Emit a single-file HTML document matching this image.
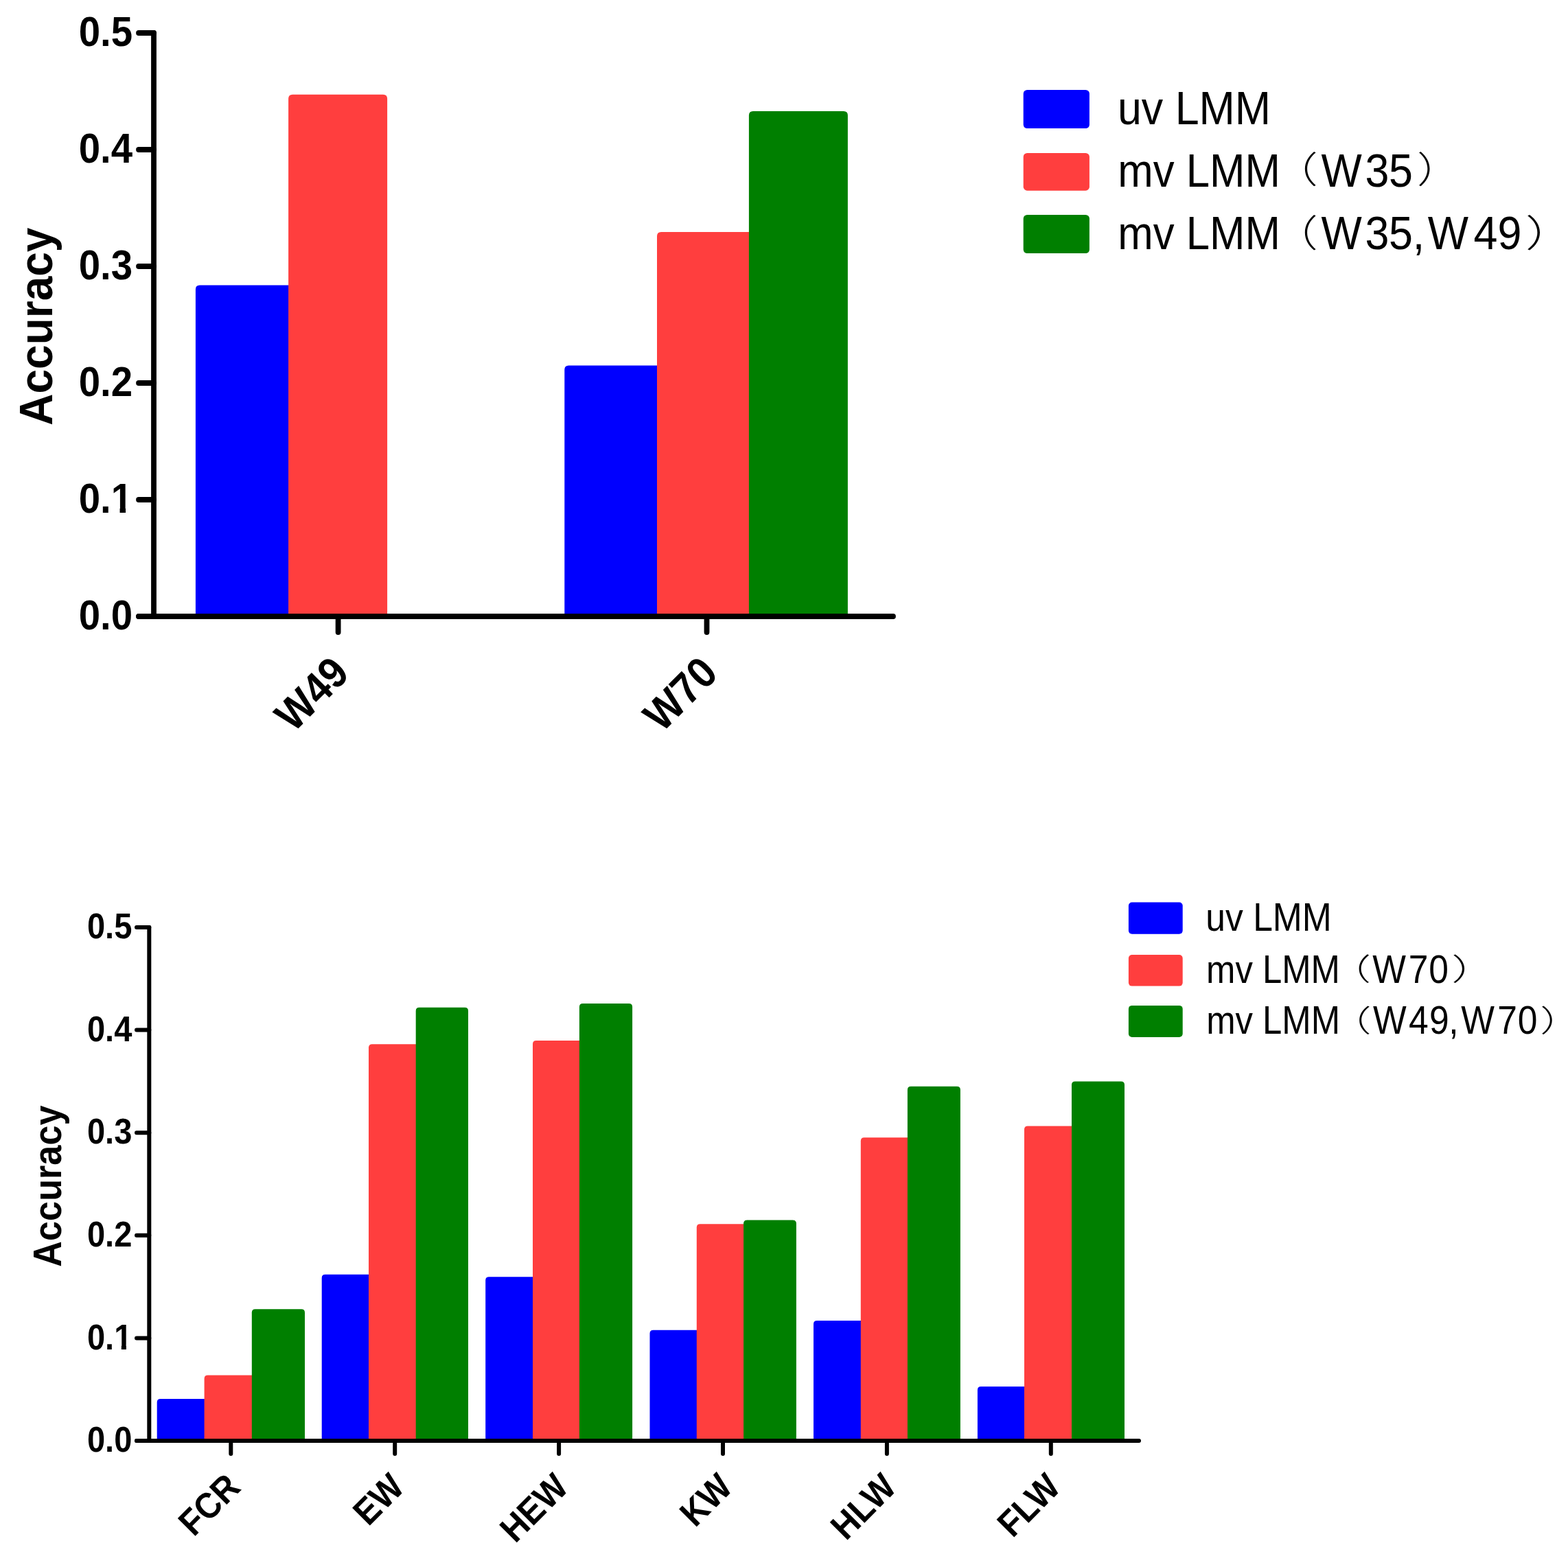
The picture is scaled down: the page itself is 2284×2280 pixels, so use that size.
<!DOCTYPE html>
<html><head><meta charset="utf-8"><title>Accuracy charts</title>
<style>
html,body{margin:0;padding:0;background:#fff;}
body{width:2284px;height:2280px;overflow:hidden;}
svg{display:block;}
.b{font-family:"Liberation Sans",Arial,sans-serif;font-weight:bold;fill:#000;}
.r{font-family:"Liberation Sans",Arial,sans-serif;font-weight:normal;fill:#000;}
.p{font-family:"Noto Sans CJK SC","Liberation Sans",sans-serif;font-weight:300;fill:#000;}
</style></head><body>
<svg width="2284" height="2280" viewBox="0 0 2284 2280">
<rect width="2284" height="2280" fill="#fff"/>
<defs><clipPath id="c1" clipPathUnits="userSpaceOnUse"><rect x="-123.4" y="-123.4" width="185.1" height="115.38"/><rect x="-123.4" y="-123.4" width="92.55" height="154.25"/><rect x="-20.3" y="-12.34" width="9.26" height="24.68"/></clipPath><clipPath id="c2" clipPathUnits="userSpaceOnUse"><rect x="-102.8" y="-102.8" width="154.2" height="96.12"/><rect x="-102.8" y="-102.8" width="77.1" height="128.5"/><rect x="-16.91" y="-10.28" width="7.71" height="20.56"/></clipPath></defs>
<path d="M284.9,898 V421.6 Q284.9,415.6 290.9,415.6 H422.9 Q428.9,415.6 428.9,421.6 V898 Z" fill="#0000FF"/>
<path d="M420.1,898 V143.75 Q420.1,137.75 426.1,137.75 H558.1 Q564.1,137.75 564.1,143.75 V898 Z" fill="#FF3E3E"/>
<path d="M822.3,898 V538.4 Q822.3,532.4 828.3,532.4 H960.3 Q966.3,532.4 966.3,538.4 V898 Z" fill="#0000FF"/>
<path d="M957,898 V344.1 Q957,338.1 963,338.1 H1095 Q1101,338.1 1101,344.1 V898 Z" fill="#FF3E3E"/>
<path d="M1090.9,898 V167.9 Q1090.9,161.9 1096.9,161.9 H1228.9 Q1234.9,161.9 1234.9,167.9 V898 Z" fill="#007F00"/>
<g stroke="#000" stroke-width="7.8" stroke-linecap="round" fill="none">
<path d="M224,48 V898"/>
<path d="M202,898 H1301"/>
<path d="M202,898 H224"/>
<path d="M202,728 H224"/>
<path d="M202,558 H224"/>
<path d="M202,388 H224"/>
<path d="M202,218 H224"/>
<path d="M202,48 H224"/>
<path d="M492.6,898 V921"/>
<path d="M1029.5,898 V921"/>
</g>
<text class="b" transform="translate(193.1 917.2) scale(0.914 1)" font-size="61.7" text-anchor="end">0.0</text>
<text class="b" transform="translate(193.1 747.2) scale(0.914 1)" font-size="61.7" text-anchor="end" clip-path="url(#c1)">0.1</text>
<text class="b" transform="translate(193.1 577.2) scale(0.914 1)" font-size="61.7" text-anchor="end">0.2</text>
<text class="b" transform="translate(193.1 407.2) scale(0.914 1)" font-size="61.7" text-anchor="end">0.3</text>
<text class="b" transform="translate(193.1 237.2) scale(0.914 1)" font-size="61.7" text-anchor="end">0.4</text>
<text class="b" transform="translate(193.1 67.2) scale(0.914 1)" font-size="61.7" text-anchor="end">0.5</text>
<text class="b" transform="translate(76.1 619.8) rotate(-90) scale(0.932 1)" font-size="68.7">Accuracy</text>
<text class="b" transform="translate(511.6 984) rotate(-45) scale(0.914 1)" font-size="63.5" text-anchor="end">W49</text>
<text class="b" transform="translate(1048.5 984) rotate(-45) scale(0.914 1)" font-size="63.5" text-anchor="end">W70</text>
<rect x="1490.7" y="131" width="96.2" height="56" rx="5.5" fill="#0000FF"/>
<rect x="1490.7" y="223" width="96.2" height="54.7" rx="5.5" fill="#FF3E3E"/>
<rect x="1490.7" y="312.9" width="96.2" height="56.1" rx="5.5" fill="#007F00"/>
<text class="r" transform="translate(1627.92 181.2) scale(0.915 1)" font-size="68.6">uv LMM</text>
<text class="r" transform="translate(1628.33 271.6) scale(0.9 1)" font-size="68.6">mv LMM</text>
<text class="p" transform="translate(1853.8 267.49) scale(1.244 1)" font-size="53.05">（</text>
<text class="r" transform="translate(0 271.6) scale(0.915 1)" font-size="68.6" x="2103.33 2173.24 2210.81">W35</text>
<text class="p" transform="translate(2063.96 267.49) scale(1.221 1)" font-size="53.05">）</text>
<text class="r" transform="translate(1628.33 363.4) scale(0.9 1)" font-size="68.6">mv LMM</text>
<text class="p" transform="translate(1853.8 359.35) scale(1.210 1)" font-size="54.53">（</text>
<text class="r" transform="translate(0 363.4) scale(0.915 1)" font-size="68.6" x="2103.33 2173.24 2210.81 2248.8 2272.95 2345.96 2384.1">W35,W49</text>
<text class="p" transform="translate(2221.68 359.35) scale(1.364 1)" font-size="54.53">）</text>
<path d="M228.7,2099 V2043.1 Q228.7,2038.1 233.7,2038.1 H300.7 Q305.7,2038.1 305.7,2043.1 V2099 Z" fill="#0000FF"/>
<path d="M297.6,2099 V2008.4 Q297.6,2003.4 302.6,2003.4 H369.6 Q374.6,2003.4 374.6,2008.4 V2099 Z" fill="#FF3E3E"/>
<path d="M366.8,2099 V1912.2 Q366.8,1907.2 371.8,1907.2 H439 Q444,1907.2 444,1912.2 V2099 Z" fill="#007F00"/>
<path d="M468.7,2099 V1861.8 Q468.7,1856.8 473.7,1856.8 H540.7 Q545.7,1856.8 545.7,1861.8 V2099 Z" fill="#0000FF"/>
<path d="M537,2099 V1526.3 Q537,1521.3 542,1521.3 H609 Q614,1521.3 614,1526.3 V2099 Z" fill="#FF3E3E"/>
<path d="M605.7,2099 V1472.8 Q605.7,1467.8 610.7,1467.8 H677 Q682,1467.8 682,1472.8 V2099 Z" fill="#007F00"/>
<path d="M707.2,2099 V1865.3 Q707.2,1860.3 712.2,1860.3 H779.2 Q784.2,1860.3 784.2,1865.3 V2099 Z" fill="#0000FF"/>
<path d="M776,2099 V1521.1 Q776,1516.1 781,1516.1 H848 Q853,1516.1 853,1521.1 V2099 Z" fill="#FF3E3E"/>
<path d="M843.9,2099 V1466.9 Q843.9,1461.9 848.9,1461.9 H916.1 Q921.1,1461.9 921.1,1466.9 V2099 Z" fill="#007F00"/>
<path d="M946.5,2099 V1942.7 Q946.5,1937.7 951.5,1937.7 H1018.5 Q1023.5,1937.7 1023.5,1942.7 V2099 Z" fill="#0000FF"/>
<path d="M1014.8,2099 V1788.2 Q1014.8,1783.2 1019.8,1783.2 H1086.8 Q1091.8,1783.2 1091.8,1788.2 V2099 Z" fill="#FF3E3E"/>
<path d="M1083.1,2099 V1782.6 Q1083.1,1777.6 1088.1,1777.6 H1154.9 Q1159.9,1777.6 1159.9,1782.6 V2099 Z" fill="#007F00"/>
<path d="M1185,2099 V1929 Q1185,1924 1190,1924 H1257 Q1262,1924 1262,1929 V2099 Z" fill="#0000FF"/>
<path d="M1253.8,2099 V1662.3 Q1253.8,1657.3 1258.8,1657.3 H1325.8 Q1330.8,1657.3 1330.8,1662.3 V2099 Z" fill="#FF3E3E"/>
<path d="M1321.9,2099 V1587.8 Q1321.9,1582.8 1326.9,1582.8 H1393.9 Q1398.9,1582.8 1398.9,1587.8 V2099 Z" fill="#007F00"/>
<path d="M1423.9,2099 V2025 Q1423.9,2020 1428.9,2020 H1495.9 Q1500.9,2020 1500.9,2025 V2099 Z" fill="#0000FF"/>
<path d="M1492,2099 V1645.4 Q1492,1640.4 1497,1640.4 H1564 Q1569,1640.4 1569,1645.4 V2099 Z" fill="#FF3E3E"/>
<path d="M1561,2099 V1580.5 Q1561,1575.5 1566,1575.5 H1633 Q1638,1575.5 1638,1580.5 V2099 Z" fill="#007F00"/>
<g stroke="#000" stroke-width="6" stroke-linecap="round" fill="none">
<path d="M217.3,1351 V2099"/>
<path d="M199,2099 H1659"/>
<path d="M199,2099.0 H217.3"/>
<path d="M199,1949.4 H217.3"/>
<path d="M199,1799.8 H217.3"/>
<path d="M199,1650.2 H217.3"/>
<path d="M199,1500.6 H217.3"/>
<path d="M199,1351.0 H217.3"/>
<path d="M336.3,2099 V2118"/>
<path d="M575.2,2099 V2118"/>
<path d="M814.1,2099 V2118"/>
<path d="M1053.0,2099 V2118"/>
<path d="M1291.9,2099 V2118"/>
<path d="M1530.8,2099 V2118"/>
</g>
<text class="b" transform="translate(192.3 2115.2) scale(0.915 1)" font-size="51.4" text-anchor="end">0.0</text>
<text class="b" transform="translate(192.3 1965.6) scale(0.915 1)" font-size="51.4" text-anchor="end" clip-path="url(#c2)">0.1</text>
<text class="b" transform="translate(192.3 1816) scale(0.915 1)" font-size="51.4" text-anchor="end">0.2</text>
<text class="b" transform="translate(192.3 1666.4) scale(0.915 1)" font-size="51.4" text-anchor="end">0.3</text>
<text class="b" transform="translate(192.3 1516.8) scale(0.915 1)" font-size="51.4" text-anchor="end">0.4</text>
<text class="b" transform="translate(192.3 1367.2) scale(0.915 1)" font-size="51.4" text-anchor="end">0.5</text>
<text class="b" transform="translate(89.4 1845.7) rotate(-90) scale(0.915 1)" font-size="57.1">Accuracy</text>
<text class="b" transform="translate(352.8 2169.5) rotate(-45) scale(0.915 1)" font-size="53" text-anchor="end">FCR</text>
<text class="b" transform="translate(591.7 2169.5) rotate(-45) scale(0.915 1)" font-size="53" text-anchor="end">EW</text>
<text class="b" transform="translate(830.6 2169.5) rotate(-45) scale(0.915 1)" font-size="53" text-anchor="end">HEW</text>
<text class="b" transform="translate(1069.5 2169.5) rotate(-45) scale(0.915 1)" font-size="53" text-anchor="end">KW</text>
<text class="b" transform="translate(1308.4 2169.5) rotate(-45) scale(0.915 1)" font-size="53" text-anchor="end">HLW</text>
<text class="b" transform="translate(1547.3 2169.5) rotate(-45) scale(0.915 1)" font-size="53" text-anchor="end">FLW</text>
<rect x="1643.9" y="1314.6" width="78.8" height="46.2" rx="5" fill="#0000FF"/>
<rect x="1643.9" y="1391.1" width="78.8" height="45.5" rx="5" fill="#FF3E3E"/>
<rect x="1643.9" y="1464.9" width="78.8" height="46.0" rx="5" fill="#007F00"/>
<text class="r" transform="translate(1756.35 1355.9) scale(0.905 1)" font-size="57.0">uv LMM</text>
<text class="r" transform="translate(1757.04 1431.8) scale(0.892 1)" font-size="57.0">mv LMM</text>
<text class="p" transform="translate(1936.52 1428.4) scale(1.373 1)" font-size="44.00">（</text>
<text class="r" transform="translate(0 1431.8) scale(0.905 1)" font-size="57.0" x="2209.16 2267.04 2299.77">W70</text>
<text class="p" transform="translate(2114.2 1428.4) scale(1.500 1)" font-size="44.00">）</text>
<text class="r" transform="translate(1757.14 1506.3) scale(0.892 1)" font-size="57.0">mv LMM</text>
<text class="p" transform="translate(1936.74 1502.6) scale(1.382 1)" font-size="44.00">（</text>
<text class="r" transform="translate(0 1506.3) scale(0.905 1)" font-size="57.0" x="2209.83 2267.31 2300.53 2331.67 2351.71 2410.13 2442.75">W49,W70</text>
<text class="p" transform="translate(2243.34 1502.6) scale(1.391 1)" font-size="44.00">）</text>
</svg></body></html>
